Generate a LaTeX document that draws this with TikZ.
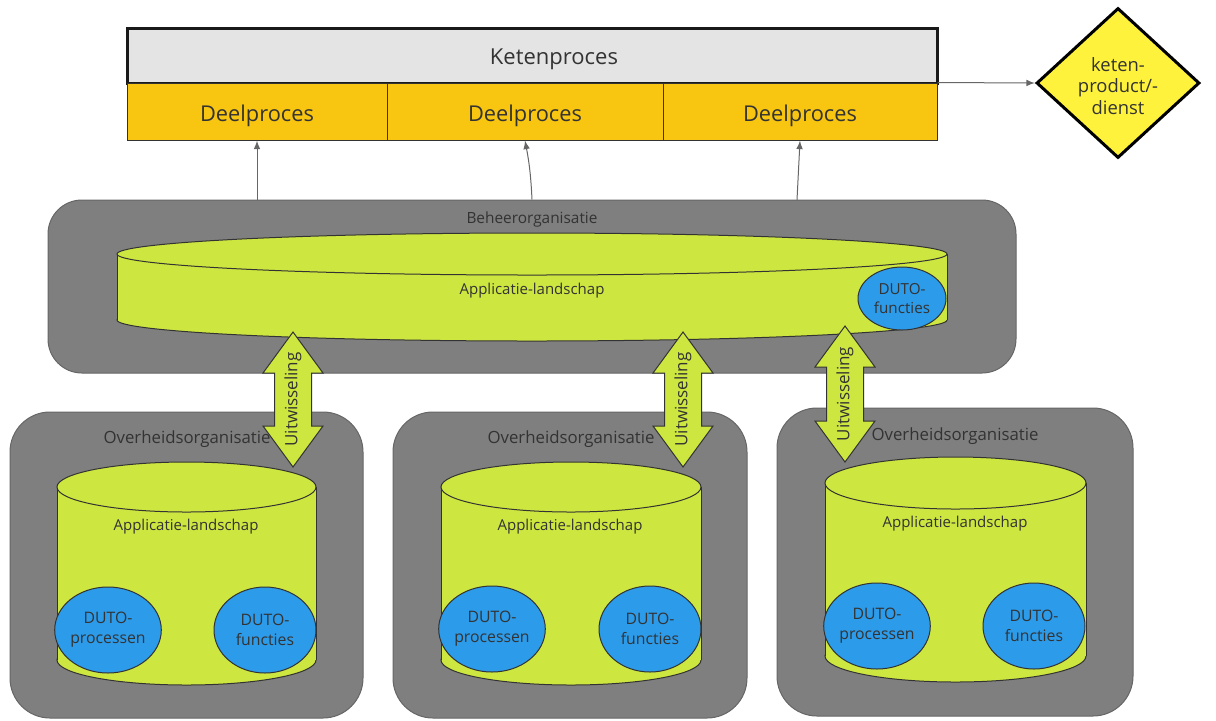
\documentclass[tikz,border=0pt]{standalone}
\usepackage{fontspec}
\setmainfont{Open Sans}
\usepackage{tikz}
\usetikzlibrary{shapes.geometric,arrows}

\definecolor{ketengrijs}{HTML}{E4E4E4}
\definecolor{deeloranje}{HTML}{F8C511}
\definecolor{productgeel}{HTML}{FFF23C}
\definecolor{orggrijs}{HTML}{7F7F7F}
\definecolor{appgroen}{HTML}{CEE640}
\definecolor{dutoblauw}{HTML}{2C9BEA}
\definecolor{tekst}{HTML}{333333}

% landscape cylinder: name, centre x, top y, bottom y, x radius, y radius
\newcommand{\appcyl}[6]{%
  \filldraw[fill=appgroen, draw=black!80, line width=0.5pt] (#2,#4) ellipse [x radius=#5, y radius=#6];
  \fill[appgroen] (#2-#5,#3) rectangle (#2+#5,#4);
  \draw[black!80, line width=0.5pt] (#2-#5,#3) -- (#2-#5,#4) (#2+#5,#3) -- (#2+#5,#4);
  \filldraw[fill=appgroen, draw=black!80, line width=0.5pt] (#2,#3) ellipse [x radius=#5, y radius=#6];
  \coordinate (#1) at (#2,#3);
}
% exchange arrow: name, centre x, top y, bottom y
\newcommand{\uitwisseling}[4]{%
  \draw[fill=appgroen, draw=black!80, line width=0.5pt]
    (#2,#3) -- (#2+30,#3+41) -- (#2+18.5,#3+41) -- (#2+18.5,#4-41) -- (#2+30,#4-41)
    -- (#2,#4) -- (#2-30,#4-41) -- (#2-18.5,#4-41) -- (#2-18.5,#3+41) -- (#2-30,#3+41) -- cycle;
  \node[font=\fontsize{8.5}{10}\selectfont, rotate=90] (#1) at (#2,{(#3+#4)/2}) {Uitwisseling};
}

\begin{document}
\begin{tikzpicture}[x=0.5pt, y=-0.5pt, >=latex,
    every node/.style={text=tekst},
    klein/.style={font=\fontsize{7.5}{9}\selectfont},
    orgtekst/.style={font=\fontsize{8.4}{10}\selectfont},
    deel/.style={draw=black!80, line width=0.5pt, fill=deeloranje, minimum height=28.5pt, inner sep=0pt,
                 font=\fontsize{10.9}{12}\selectfont, text height=12.3pt, text depth=2.6pt},
    org/.style={draw=black!60, line width=0.5pt, fill=orggrijs, rounded corners=20pt},
    duto/.style={ellipse, draw=black!80, line width=0.5pt, fill=dutoblauw, align=center, inner sep=0pt,
                 minimum width=51pt, minimum height=43pt, font=\fontsize{7.9}{10}\selectfont},
    pijl/.style={->, draw=black!60, line width=0.5pt}]
  \useasboundingbox (0,0) rectangle (1216,720);

  % chain process
  \node[draw=black!90, line width=1.5pt, fill=ketengrijs, minimum width=405pt, minimum height=27.5pt] (keten) at (532,55.5) {};
  \node[font=\fontsize{11}{13}\selectfont] (ketentekst) at (554,59.5) {Ketenproces};
  \node[deel, minimum width=130pt] (deel1) at (257,111.5) {Deelproces};
  \node[deel, minimum width=138pt] (deel2) at (525,111.5) {Deelproces};
  \node[deel, minimum width=137pt] (deel3) at (800,111.5) {Deelproces};
  \node[diamond, draw=black, line width=1.5pt, fill=productgeel, minimum width=81.5pt, minimum height=75pt,
        inner sep=0pt] (product) at (1118,83) {};
  \node[align=center, font=\fontsize{9.2}{10.8}\selectfont] (producttekst) at (1118,86) {keten-\\product/-\\dienst};
  \draw[pijl] (deel3.north east) -- (product.west);

  % management organisation
  \node[org, rounded corners=17pt, minimum width=484pt, minimum height=86.5pt] (beheer) at (532,286.5) {};
  \node[font=\fontsize{7.7}{9}\selectfont] (beheertekst) at (532,219) {Beheerorganisatie};
  \appcyl{beheerapp}{532}{254}{320}{415}{21}
  \node[klein] (beheerapptekst) at (532,291) {Applicatie-landschap};
  \node[duto, minimum width=44pt, minimum height=31.5pt, font=\fontsize{7.6}{9.6}\selectfont] (beheerfuncties) at (902,298.5) {DUTO-\\functies};

  \coordinate (op3) at (797,200);
  \draw[pijl] (deel1.south |- beheer.north) -- (deel1.south);
  \draw[pijl] (beheer.north) to[bend right=4] (deel2.south);
  \draw[pijl] (op3) -- (deel3.south);

  % government organisations
  \node[org, minimum width=176.5pt, minimum height=153pt] (org1) at (186.5,565) {};
  \node[org, minimum width=177pt, minimum height=153pt] (org2) at (570,565) {};
  \node[org, minimum width=178pt, minimum height=154pt] (org3) at (955,562) {};
  \node[orgtekst] (org1tekst) at (187,439) {Overheidsorganisatie};
  \node[orgtekst] (org2tekst) at (571,439) {Overheidsorganisatie};
  \node[orgtekst] (org3tekst) at (955,436) {Overheidsorganisatie};

  \appcyl{app1}{186.5}{487}{660}{129.5}{25}
  \appcyl{app2}{571}{487}{660}{130}{25}
  \appcyl{app3}{955.5}{483}{656}{130.5}{26}
  \node[klein] (app1tekst) at (186,527) {Applicatie-landschap};
  \node[klein] (app2tekst) at (570,527) {Applicatie-landschap};
  \node[klein] (app3tekst) at (955,524) {Applicatie-landschap};

  \node[duto] (proc1) at (108,630) {DUTO-\\processen};
  \node[duto] (func1) at (265,630) {DUTO-\\functies};
  \node[duto] (proc2) at (492,629) {DUTO-\\processen};
  \node[duto] (func2) at (650,629) {DUTO-\\functies};
  \node[duto] (proc3) at (877,626) {DUTO-\\processen};
  \node[duto] (func3) at (1034,626) {DUTO-\\functies};

  % exchange arrows
  \uitwisseling{uit1}{293}{332}{467}
  \uitwisseling{uit2}{683}{332}{467}
  \uitwisseling{uit3}{845}{326}{462}
\end{tikzpicture}
\end{document}
